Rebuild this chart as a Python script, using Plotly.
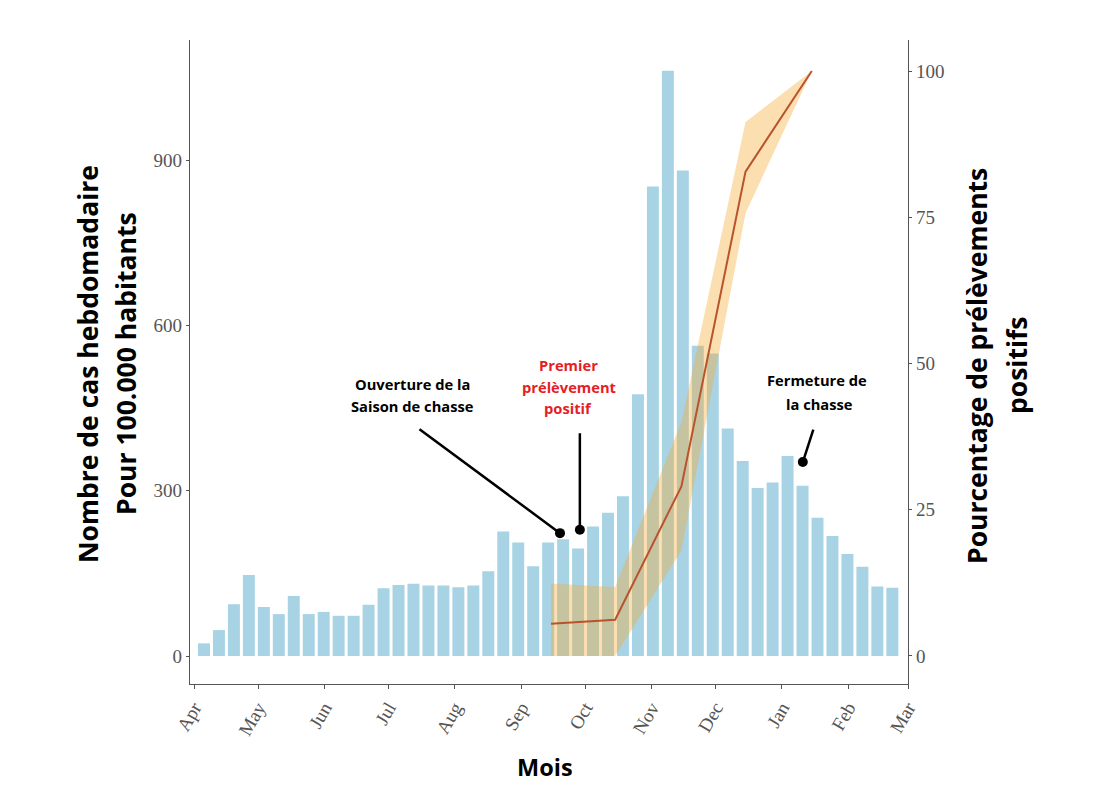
import pandas as pd
import plotly.graph_objects as go

# ---- data ----
week_start = "2009-04-05 16:00"
cases = [23, 47, 94, 147, 89, 76, 109, 76, 80, 73, 73, 93, 123, 129, 131, 128, 128, 125, 128, 154,
         226, 206, 163, 206, 212, 195, 235, 260, 290, 475, 852, 1062, 881, 563, 549, 413, 354, 305,
         315, 363, 309, 251, 218, 185, 162, 126, 124]
week_dates = pd.date_range(week_start, periods=len(cases), freq="7D")

pct_dates = ["2009-09-15", "2009-10-15", "2009-11-15", "2009-12-15", "2010-01-15"]
pct_mid = [5.5, 6.2, 29.0, 82.8, 100.0]
pct_low = [0.0, 0.0, 18.0, 75.7, 100.0]
pct_high = [12.4, 11.8, 40.0, 91.3, 100.0]

left_ticks = [0, 300, 600, 900]
right_ticks = [0, 25, 50, 75, 100]

# ---- layout helpers (screen pixel -> paper) ----
OFF = 8  # page body margin
W, H = 1099 - 2 * OFF, 791 - 2 * OFF
X0, X1, Y0, Y1 = 190, 908, 40, 684
def px(x):
    return (x - X0) / (X1 - X0)
def py(y):
    return (Y1 - y) / (Y1 - Y0)

AX = "#555555"
TICKFONT = dict(family="Liberation Serif", size=19, color="#555555")
TXT = "Open Sans"

fig = go.Figure()
fig.add_trace(go.Bar(x=week_dates, y=cases, width=0.8 * 7 * 86400000,
                     marker=dict(color="#a8d3e4", line=dict(width=0)), yaxis="y"))
fig.add_trace(go.Scatter(x=pct_dates, y=pct_low, mode="lines", line=dict(width=0, color="rgba(0,0,0,0)"),
                         yaxis="y2", hoverinfo="skip"))
fig.add_trace(go.Scatter(x=pct_dates, y=pct_high, mode="lines", line=dict(width=0, color="rgba(0,0,0,0)"),
                         fill="tonexty", fillcolor="rgba(248,172,50,0.38)", yaxis="y2", hoverinfo="skip"))
fig.add_trace(go.Scatter(x=pct_dates, y=pct_mid, mode="lines", line=dict(width=2, color="#b9532c"),
                         yaxis="y2"))

anns = []
anns.append(dict(text="<b>Nombre de cas hebdomadaire</b>", x=px(88), y=py(364), textangle=-90))
anns.append(dict(text="<b>Pour 100.000 habitants</b>", x=px(126), y=py(364), textangle=-90))
anns.append(dict(text="<b>Pourcentage de prélèvements</b>", x=px(977), y=py(366), textangle=-90))
anns.append(dict(text="<b>positifs</b>", x=px(1017), y=py(366), textangle=-90))
for a in anns:
    a.update(xref="paper", yref="paper", showarrow=False, xanchor="center", yanchor="middle",
             font=dict(family=TXT, size=26.5, color="black"))
anns.append(dict(text="<b>Mois</b>", x=px(545), y=py(767), xref="paper", yref="paper", showarrow=False,
                 xanchor="center", yanchor="middle", height=26, valign="middle",
                 font=dict(family=TXT, size=23.5, color="black")))

def label(t, x, y, color="black"):
    return dict(text="<b>%s</b>" % t, x=px(x), y=py(y), xref="paper", yref="paper", showarrow=False,
                xanchor="center", yanchor="middle", font=dict(family=TXT, size=14.7, color=color))

anns += [label("Ouverture de la", 412, 384), label("Saison de chasse", 412, 406),
         label("Premier", 568, 365, "#e51e25"), label("prélèvement", 569, 387, "#e51e25"),
         label("positif", 568, 408, "#e51e25"),
         label("Fermeture de", 817, 380), label("la chasse", 819, 404)]

def arrow(x, y, ax, ay):
    return dict(x=x, y=y, xref="x", yref="y", ax=ax, ay=ay, axref="pixel", ayref="pixel",
                text="", showarrow=True, arrowhead=6, arrowsize=1.0, arrowwidth=2.5, arrowcolor="black")

anns += [arrow("2009-09-19 05:00", 223, -142, -105),
         arrow("2009-09-28 12:00", 229, 0, -98),
         arrow("2010-01-10 19:00", 352, 11, -34)]

fig.update_layout(
    width=W, height=H,
    margin=dict(l=X0 - OFF, r=W - (X1 - OFF), t=Y0 - OFF, b=H - (Y1 - OFF)),
    plot_bgcolor="white", paper_bgcolor="white",
    showlegend=False,
    annotations=anns,
    xaxis=dict(type="date", range=["2009-03-30 03:00", "2010-03-01"], dtick="M1", tick0="2009-04-01",
               tickformat="%b", tickangle=-60, ticks="outside", ticklen=4, tickcolor=AX,
               showline=True, linecolor=AX, linewidth=1.3, showgrid=False, zeroline=False,
               tickfont=TICKFONT),
    yaxis=dict(range=[-50.8, 1118], tickvals=left_ticks, ticks="outside", ticklen=3, tickcolor=AX,
               showline=True, linecolor=AX, linewidth=1.3, showgrid=False, zeroline=False,
               tickfont=TICKFONT),
    yaxis2=dict(range=[-4.79, 105.3], tickvals=right_ticks, overlaying="y", side="right",
                ticks="outside", ticklen=3, tickcolor=AX, showline=True, linecolor=AX, linewidth=1.3,
                showgrid=False, zeroline=False, tickfont=TICKFONT),
)

fig.write_html("out.html")
